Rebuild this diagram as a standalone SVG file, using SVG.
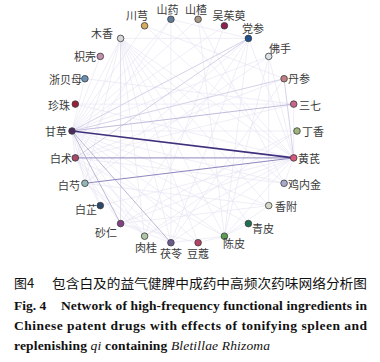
<svg xmlns="http://www.w3.org/2000/svg" width="380" height="362" viewBox="0 0 380 362">
<style>
.lbl{font-family:"Noto Sans CJK SC","Noto Sans",sans-serif;font-size:11px;fill:#3a3a3a}
.n{stroke:#3c3c3c;stroke-width:0.8}
.f{stroke:#e4e2f2;stroke-width:0.6;fill:none}
.m{stroke:#cac6e2;stroke-width:0.8;fill:none}
.cap{font-family:"Noto Sans CJK SC","Noto Sans",sans-serif;font-size:13px;fill:#111}
.en{font-family:"Liberation Serif","Times New Roman",serif;font-size:13.5px;font-weight:bold;fill:#111}
.it{font-style:italic;font-weight:normal}
</style>
<rect width="380" height="362" fill="#ffffff"/>
<g id="edges">
<g class="f">
<line x1="120.6" y1="38.4" x2="293.7" y2="157.9"/>
<line x1="120.6" y1="38.4" x2="72" y2="131"/>
<line x1="120.6" y1="38.4" x2="75.3" y2="157.9"/>
<line x1="120.6" y1="38.4" x2="170.9" y2="242.7"/>
<line x1="120.6" y1="38.4" x2="224.4" y2="236.2"/>
<line x1="120.6" y1="38.4" x2="198.1" y2="242.7"/>
<line x1="120.6" y1="38.4" x2="248.4" y2="38.4"/>
<line x1="120.6" y1="38.4" x2="84.9" y2="183.3"/>
<line x1="120.6" y1="38.4" x2="284.1" y2="183.3"/>
<line x1="120.6" y1="38.4" x2="268.7" y2="205.6"/>
<line x1="120.6" y1="38.4" x2="248.4" y2="223.6"/>
<line x1="120.6" y1="38.4" x2="144.6" y2="236.2"/>
<line x1="248.4" y1="38.4" x2="170.9" y2="242.7"/>
<line x1="248.4" y1="38.4" x2="293.7" y2="157.9"/>
<line x1="248.4" y1="38.4" x2="224.4" y2="236.2"/>
<line x1="248.4" y1="38.4" x2="84.9" y2="183.3"/>
<line x1="248.4" y1="38.4" x2="120.6" y2="223.6"/>
<line x1="248.4" y1="38.4" x2="170.9" y2="19.3"/>
<line x1="293.7" y1="157.9" x2="170.9" y2="242.7"/>
<line x1="293.7" y1="157.9" x2="224.4" y2="236.2"/>
<line x1="293.7" y1="157.9" x2="170.9" y2="19.3"/>
<line x1="293.7" y1="157.9" x2="284.1" y2="183.3"/>
<line x1="293.7" y1="157.9" x2="120.6" y2="223.6"/>
<line x1="293.7" y1="157.9" x2="144.6" y2="236.2"/>
<line x1="293.7" y1="157.9" x2="293.7" y2="104.1"/>
<line x1="293.7" y1="157.9" x2="268.7" y2="56.4"/>
<line x1="72" y1="131" x2="224.4" y2="236.2"/>
<line x1="72" y1="131" x2="84.9" y2="183.3"/>
<line x1="72" y1="131" x2="75.3" y2="157.9"/>
<line x1="72" y1="131" x2="170.9" y2="19.3"/>
<line x1="72" y1="131" x2="144.6" y2="236.2"/>
<line x1="72" y1="131" x2="284.1" y2="183.3"/>
<line x1="72" y1="131" x2="198.1" y2="242.7"/>
<line x1="72" y1="131" x2="100.3" y2="56.4"/>
<line x1="72" y1="131" x2="268.7" y2="205.6"/>
<line x1="72" y1="131" x2="248.4" y2="223.6"/>
<line x1="75.3" y1="157.9" x2="170.9" y2="242.7"/>
<line x1="75.3" y1="157.9" x2="224.4" y2="236.2"/>
<line x1="75.3" y1="157.9" x2="120.6" y2="223.6"/>
<line x1="75.3" y1="157.9" x2="170.9" y2="19.3"/>
<line x1="75.3" y1="157.9" x2="284.1" y2="78.7"/>
<line x1="75.3" y1="157.9" x2="293.7" y2="104.1"/>
<line x1="75.3" y1="157.9" x2="284.1" y2="183.3"/>
<line x1="170.9" y1="242.7" x2="224.4" y2="236.2"/>
<line x1="170.9" y1="242.7" x2="120.6" y2="223.6"/>
<line x1="170.9" y1="242.7" x2="84.9" y2="183.3"/>
<line x1="170.9" y1="242.7" x2="170.9" y2="19.3"/>
<line x1="170.9" y1="242.7" x2="284.1" y2="78.7"/>
<line x1="144.6" y1="25.8" x2="293.7" y2="157.9"/>
<line x1="144.6" y1="25.8" x2="72" y2="131"/>
<line x1="144.6" y1="25.8" x2="284.1" y2="78.7"/>
<line x1="198.1" y1="19.3" x2="284.1" y2="183.3"/>
<line x1="198.1" y1="19.3" x2="224.4" y2="236.2"/>
<line x1="198.1" y1="19.3" x2="72" y2="131"/>
<line x1="224.4" y1="25.8" x2="72" y2="131"/>
<line x1="224.4" y1="25.8" x2="144.6" y2="236.2"/>
<line x1="268.7" y1="56.4" x2="224.4" y2="236.2"/>
<line x1="268.7" y1="56.4" x2="72" y2="131"/>
<line x1="268.7" y1="56.4" x2="268.7" y2="205.6"/>
<line x1="268.7" y1="56.4" x2="84.9" y2="183.3"/>
<line x1="75.3" y1="104.1" x2="293.7" y2="157.9"/>
<line x1="75.3" y1="104.1" x2="293.7" y2="104.1"/>
<line x1="84.9" y1="78.7" x2="72" y2="131"/>
<line x1="84.9" y1="78.7" x2="293.7" y2="104.1"/>
<line x1="297" y1="131" x2="120.6" y2="223.6"/>
<line x1="297" y1="131" x2="144.6" y2="236.2"/>
<line x1="297" y1="131" x2="72" y2="131"/>
<line x1="268.7" y1="205.6" x2="224.4" y2="236.2"/>
<line x1="268.7" y1="205.6" x2="84.9" y2="183.3"/>
<line x1="268.7" y1="205.6" x2="120.6" y2="223.6"/>
<line x1="248.4" y1="223.6" x2="224.4" y2="236.2"/>
<line x1="198.1" y1="242.7" x2="120.6" y2="223.6"/>
<line x1="198.1" y1="242.7" x2="224.4" y2="236.2"/>
<line x1="100.3" y1="205.6" x2="75.3" y2="157.9"/>
<line x1="100.3" y1="205.6" x2="293.7" y2="157.9"/>
<line x1="100.3" y1="205.6" x2="72" y2="131"/>
<line x1="144.6" y1="236.2" x2="75.3" y2="157.9"/>
<line x1="144.6" y1="236.2" x2="84.9" y2="183.3"/>
</g>
<g class="m">
<line x1="72" y1="131" x2="248.4" y2="38.4"/>
<line x1="75.3" y1="157.9" x2="248.4" y2="38.4"/>
<line x1="72" y1="131" x2="284.1" y2="78.7"/>
<line x1="284.1" y1="78.7" x2="293.7" y2="157.9"/>
<line x1="120.6" y1="38.4" x2="120.6" y2="223.6" stroke="#d6d3e8"/>
<line x1="72" y1="131" x2="293.7" y2="104.1" stroke="#aea9d2"/>
<line x1="72" y1="131" x2="170.9" y2="242.7" stroke="#ada6ca"/>
<line x1="72" y1="131" x2="120.6" y2="223.6" stroke="#b0a8ca"/>
<line x1="84.9" y1="183.3" x2="293.7" y2="157.9" stroke="#8e87bd" stroke-width="1"/>
<line x1="75.3" y1="157.9" x2="293.7" y2="157.9" stroke="#8e87bd" stroke-width="1"/>
<line x1="72" y1="131" x2="293.7" y2="157.9" stroke="#3f2f7c" stroke-width="1.6"/>
</g>
</g>
<g id="n-dingxiang"><circle class="n" cx="297" cy="131" r="3.3" fill="#9fb57a"/><text class="lbl" x="302" y="136">丁香</text></g>
<g id="n-sanqi"><circle class="n" cx="293.7" cy="104.1" r="3.3" fill="#c8658a"/><text class="lbl" x="299" y="110">三七</text></g>
<g id="n-danshen"><circle class="n" cx="284.1" cy="78.7" r="3.3" fill="#bf7f80"/><text class="lbl" x="288" y="83">丹参</text></g>
<g id="n-foshou"><circle class="n" cx="268.7" cy="56.4" r="3.3" fill="#dde2e6"/><text class="lbl" x="269" y="53">佛手</text></g>
<g id="n-dangshen"><circle class="n" cx="248.4" cy="38.4" r="3.3" fill="#1f4f8e"/><text class="lbl" x="253" y="33" text-anchor="middle">党参</text></g>
<g id="n-wuzhuyu"><circle class="n" cx="224.4" cy="25.8" r="3.3" fill="#8e1f4e"/><text class="lbl" x="229" y="20" text-anchor="middle">吴茱萸</text></g>
<g id="n-shanzha"><circle class="n" cx="198.1" cy="19.3" r="3.3" fill="#a89888"/><text class="lbl" x="196" y="14" text-anchor="middle">山楂</text></g>
<g id="n-shanyao"><circle class="n" cx="170.9" cy="19.3" r="3.3" fill="#5d7c98"/><text class="lbl" x="167.5" y="14" text-anchor="middle">山药</text></g>
<g id="n-chuanxiong"><circle class="n" cx="144.6" cy="25.8" r="3.3" fill="#d8aa62"/><text class="lbl" x="137" y="20" text-anchor="middle">川芎</text></g>
<g id="n-muxiang"><circle class="n" cx="120.6" cy="38.4" r="3.3" fill="#d6d6d6"/><text class="lbl" x="113" y="38" text-anchor="end">木香</text></g>
<g id="n-zhiqiao"><circle class="n" cx="100.3" cy="56.4" r="3.3" fill="#c48fae"/><text class="lbl" x="96" y="61" text-anchor="end">枳壳</text></g>
<g id="n-zhebeimu"><circle class="n" cx="84.9" cy="78.7" r="3.3" fill="#6d8fb0"/><text class="lbl" x="82" y="84" text-anchor="end">浙贝母</text></g>
<g id="n-zhenzhu"><circle class="n" cx="75.3" cy="104.1" r="3.3" fill="#95223a"/><text class="lbl" x="70" y="110" text-anchor="end">珍珠</text></g>
<g id="n-gancao"><circle class="n" cx="72" cy="131" r="3.3" fill="#4a2b5c"/><text class="lbl" x="67" y="136" text-anchor="end">甘草</text></g>
<g id="n-baizhu"><circle class="n" cx="75.3" cy="157.9" r="3.3" fill="#a44a66"/><text class="lbl" x="72" y="163" text-anchor="end">白术</text></g>
<g id="n-baishao"><circle class="n" cx="84.9" cy="183.3" r="3.3" fill="#94b6b6"/><text class="lbl" x="80" y="190" text-anchor="end">白芍</text></g>
<g id="n-baizhi"><circle class="n" cx="100.3" cy="205.6" r="3.3" fill="#2c4a68"/><text class="lbl" x="97" y="214" text-anchor="end">白芷</text></g>
<g id="n-sharen"><circle class="n" cx="120.6" cy="223.6" r="3.3" fill="#844284"/><text class="lbl" x="117" y="237" text-anchor="end">砂仁</text></g>
<g id="n-rougui"><circle class="n" cx="144.6" cy="236.2" r="3.3" fill="#afc6a6"/><text class="lbl" x="146" y="252" text-anchor="middle">肉桂</text></g>
<g id="n-fuling"><circle class="n" cx="170.9" cy="242.7" r="3.3" fill="#6c5c8e"/><text class="lbl" x="171" y="258" text-anchor="middle">茯苓</text></g>
<g id="n-doukou"><circle class="n" cx="198.1" cy="242.7" r="3.3" fill="#b44264"/><text class="lbl" x="198" y="258" text-anchor="middle">豆蔻</text></g>
<g id="n-chenpi"><circle class="n" cx="224.4" cy="236.2" r="3.3" fill="#5a9c50"/><text class="lbl" x="223" y="248">陈皮</text></g>
<g id="n-qingpi"><circle class="n" cx="248.4" cy="223.6" r="3.3" fill="#1e7050"/><text class="lbl" x="252" y="233">青皮</text></g>
<g id="n-xiangfu"><circle class="n" cx="268.7" cy="205.6" r="3.3" fill="#d6d8c8"/><text class="lbl" x="275" y="211">香附</text></g>
<g id="n-jineijin"><circle class="n" cx="284.1" cy="183.3" r="3.3" fill="#a9a9cc"/><text class="lbl" x="288" y="189">鸡内金</text></g>
<g id="n-huangqi"><circle class="n" cx="293.7" cy="157.9" r="3.3" fill="#d6587c"/><text class="lbl" x="298" y="163">黄芪</text></g>
<g id="caption">
<text class="cap" x="14" y="288">图4</text>
<text class="cap" x="52" y="288" textLength="315" lengthAdjust="spacingAndGlyphs">包含白及的益气健脾中成药中高频次药味网络分析图</text>
<text class="en" x="14" y="310">Fig. 4</text>
<text class="en" x="61" y="310" textLength="306" lengthAdjust="spacing">Network of high-frequency functional ingredients in</text>
<text class="en" x="14" y="330" textLength="353" lengthAdjust="spacing">Chinese patent drugs with effects of tonifying spleen and</text>
<text class="en" x="14" y="350" textLength="256" lengthAdjust="spacing">replenishing <tspan class="it">qi</tspan> containing <tspan class="it">Bletillae Rhizoma</tspan></text>
</g>
</svg>
